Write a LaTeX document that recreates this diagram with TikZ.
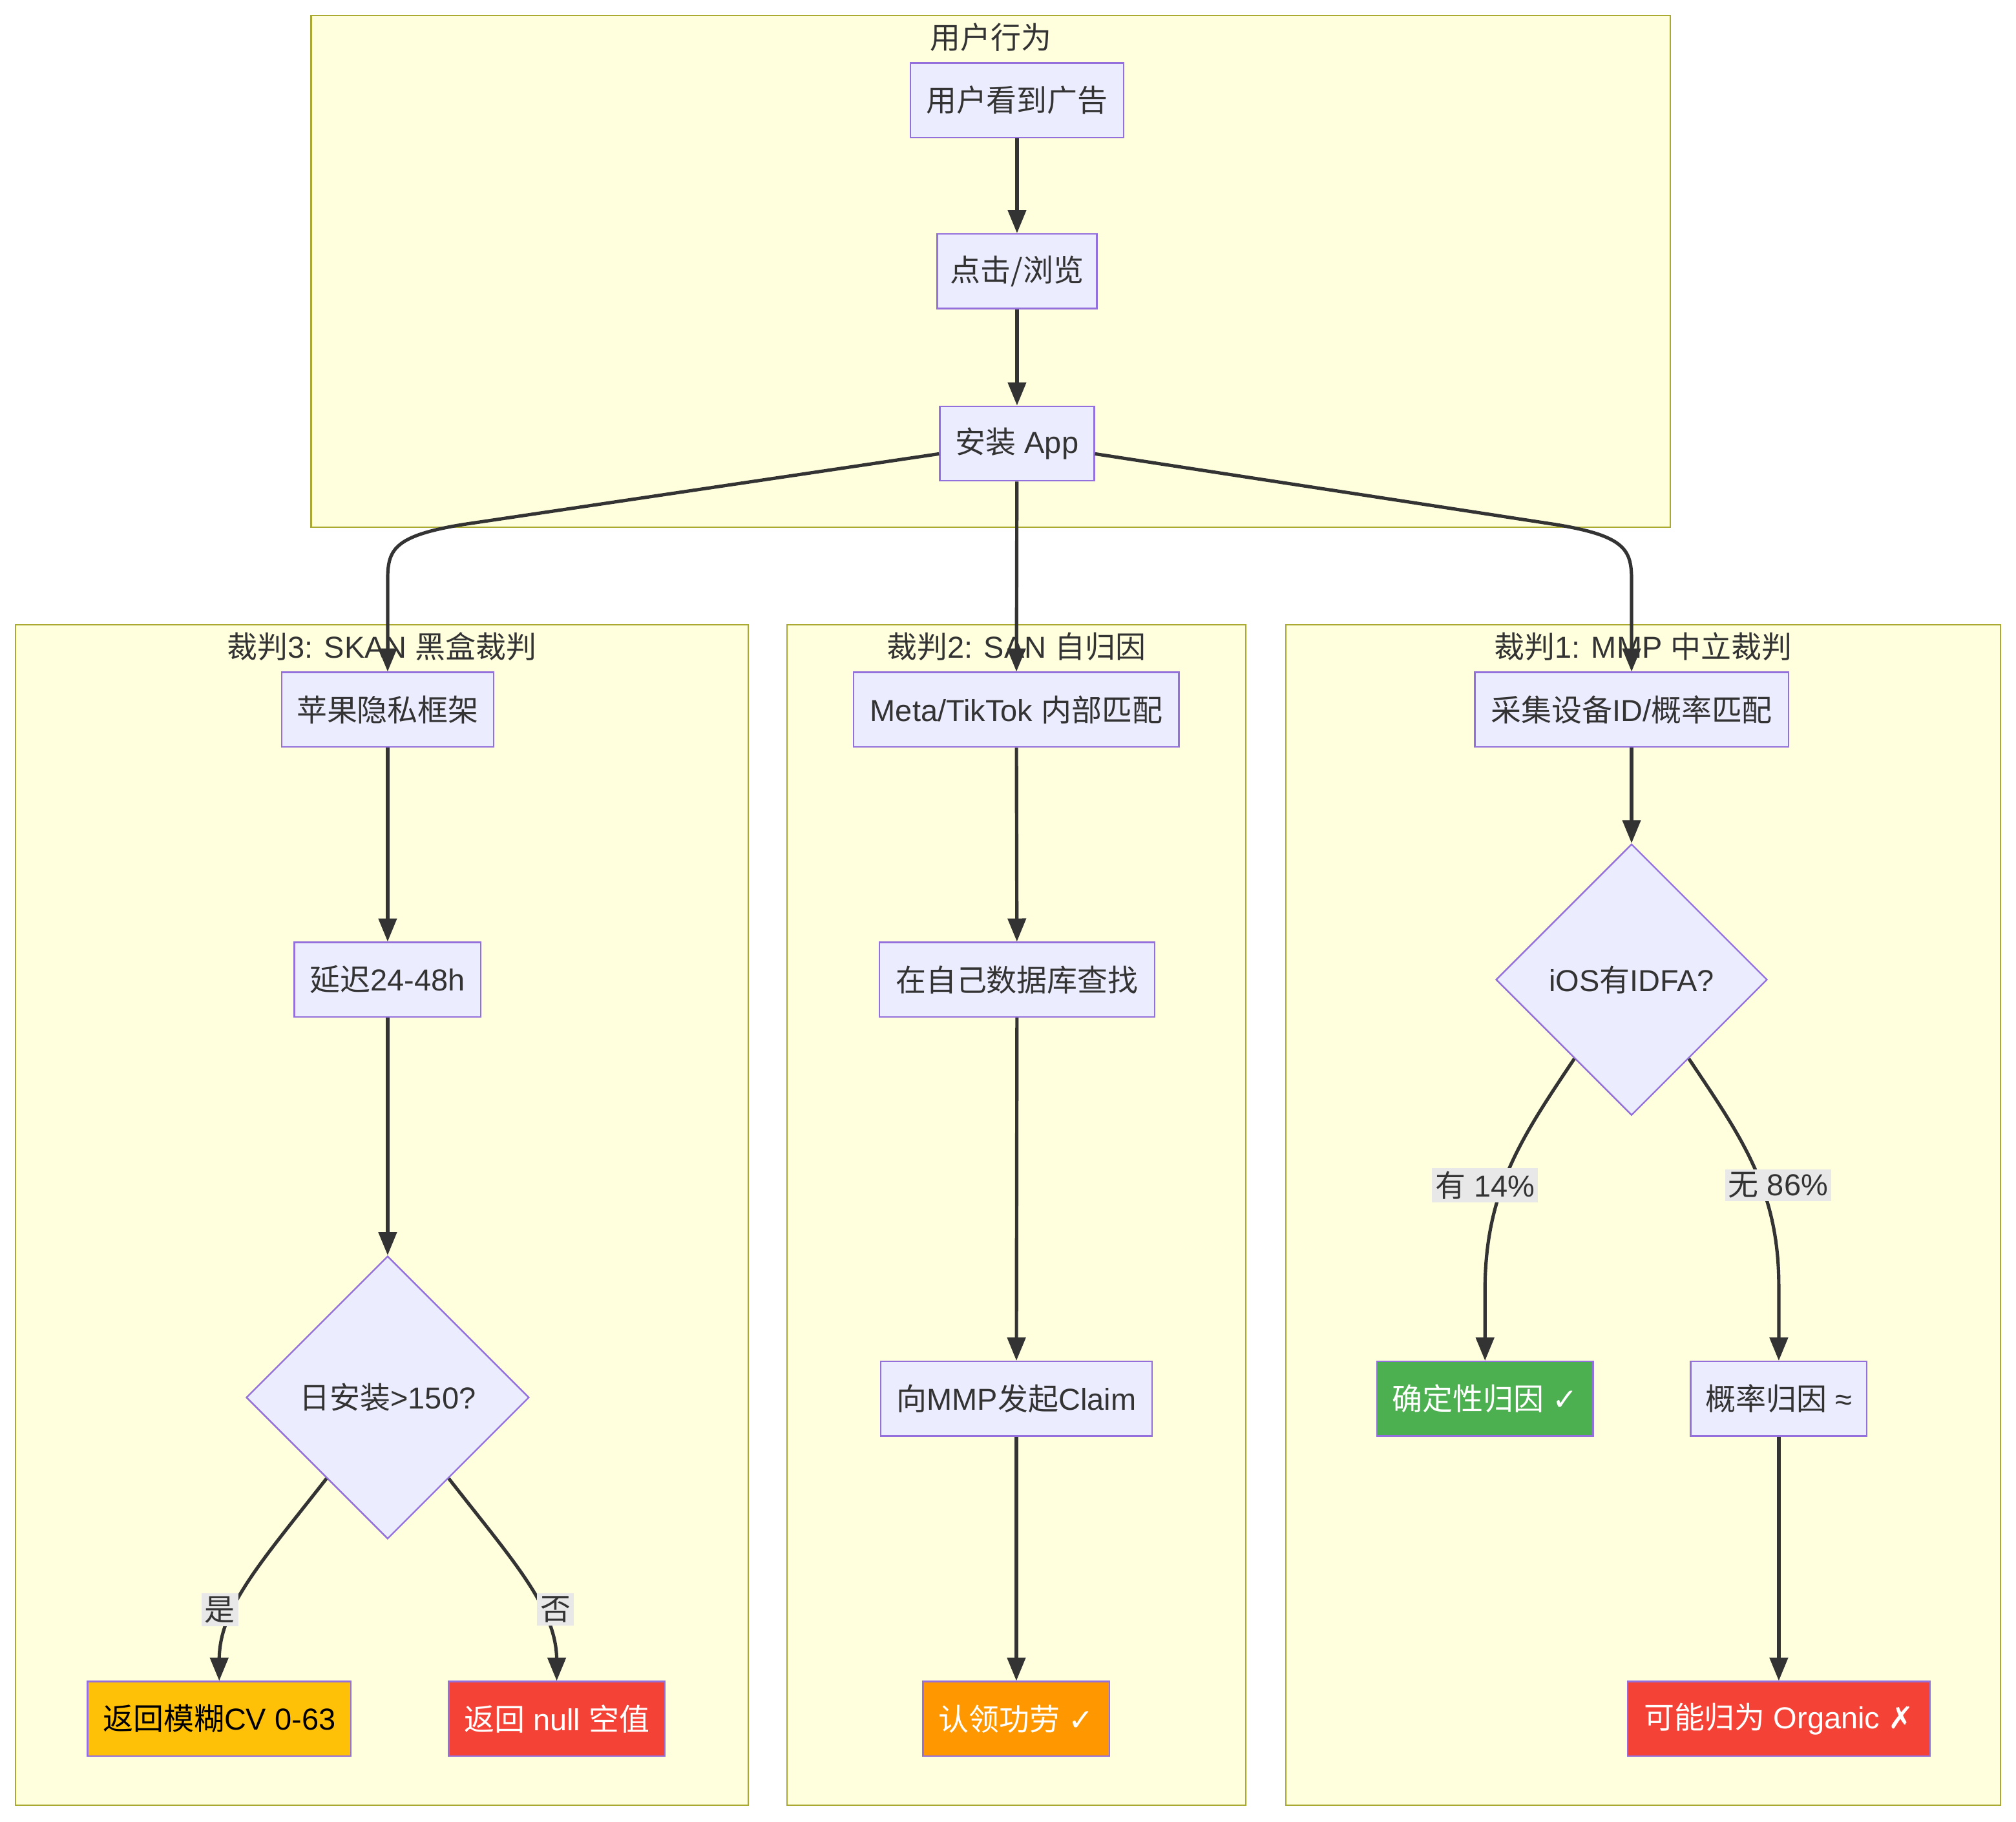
\documentclass[tikz,border=0pt]{standalone}
\usepackage{fontspec}
\setmainfont{Liberation Sans}
\newfontfamily\cjk{Noto Sans CJK SC}
\newfontfamily\symfont{DejaVu Sans}
\newcommand\zh[1]{{\cjk #1}}
\newcommand\sy[1]{{\symfont #1}}
\newcommand\fs{\fontsize{11.8pt}{14pt}\selectfont}
\usetikzlibrary{shapes.geometric,arrows.meta,calc}
\definecolor{nodefill}{HTML}{ECECFF}
\definecolor{nodeline}{HTML}{9370DB}
\definecolor{clfill}{HTML}{FFFFDE}
\definecolor{clline}{HTML}{AAAA33}
\definecolor{ink}{HTML}{333333}
\definecolor{lblbg}{HTML}{E8E8E8}
\definecolor{amberc}{HTML}{FFC107}
\definecolor{redc}{HTML}{F44336}
\definecolor{orangec}{HTML}{FF9800}
\definecolor{greenc}{HTML}{4CAF50}
\tikzset{
  box/.style={draw=nodeline, fill=nodefill, line width=0.6pt, minimum height=29pt, inner sep=0pt, text=ink},
  dia/.style={diamond, draw=nodeline, fill=nodefill, line width=0.6pt, inner sep=0pt, text=ink, aspect=1},
  cluster/.style={draw=clline, fill=clfill, line width=0.6pt},
  ctitle/.style={text=ink, inner sep=0pt},
  arr/.style={draw=ink, line width=1.3pt, -{Triangle[length=9pt,width=7pt]}},
  elabel/.style={fill=lblbg, text=ink, inner sep=1.2pt},
}
\begin{document}
\begin{tikzpicture}[x=0.5pt, y=-0.5pt, font=\fs]
\useasboundingbox (0,0) rectangle (1568,1417);
\fill[white] (0,0) rectangle (1568,1417);

% clusters
\draw[cluster] (242,12) rectangle (1299,410);
\draw[cluster] (12,486) rectangle (582,1404);
\draw[cluster] (612,486) rectangle (969,1404);
\draw[cluster] (1000,486) rectangle (1556,1404);
\node[ctitle] (t0) at (770.5,29) {\zh{用户行为}};
\node[ctitle] (t3) at (297,503) {\zh{裁判}3: SKAN \zh{黑盒裁判}};
\node[ctitle] (t2) at (790.5,503) {\zh{裁判}2: SAN \zh{自归因}};
\node[ctitle] (t1) at (1278,503) {\zh{裁判}1: MMP \zh{中立裁判}};

% top
\node[box, minimum width=83pt] (A) at (791,78) {\zh{用户看到广告}};
\node[box, minimum width=62pt] (B) at (791,211) {\zh{点击/浏览}};
\node[box, minimum width=60pt] (C) at (791,345) {\zh{安装} App};

% SKAN
\node[box, minimum width=82.5pt] (S1) at (301.5,552) {\zh{苹果隐私框架}};
\node[box, minimum width=72.5pt] (S2) at (301.5,762) {\zh{延迟}24-48h};
\node[dia, minimum width=110pt, minimum height=110pt] (S3) at (301.5,1087) {\zh{日安装}>150?};
\node[box, minimum width=102.5pt, fill=amberc, text=black] (S4) at (170.5,1337) {\zh{返回模糊}CV 0-63};
\node[box, minimum width=84pt, fill=redc, text=white] (S5) at (433,1337) {\zh{返回} null \zh{空值}};

% SAN
\node[box, minimum width=126.5pt] (N1) at (790.5,552) {Meta/TikTok \zh{内部匹配}};
\node[box, minimum width=107pt] (N2) at (791,762) {\zh{在自己数据库查找}};
\node[box, minimum width=105.5pt] (N3) at (790.5,1088) {\zh{向}MMP\zh{发起}Claim};
\node[box, minimum width=72.5pt, fill=orangec, text=white] (N4) at (790.5,1337) {\zh{认领功劳} \sy{✓}};

% MMP
\node[box, minimum width=122pt] (M1) at (1269,552) {\zh{采集设备}ID/\zh{概率匹配}};
\node[dia, minimum width=105.5pt, minimum height=105.5pt] (M2) at (1269,762) {iOS\zh{有}IDFA?};
\node[box, minimum width=84pt, fill=greenc, text=white] (M3) at (1155,1088) {\zh{确定性归因} \sy{✓}};
\node[box, minimum width=68.5pt] (M4) at (1383.5,1088) {\zh{概率归因} ≈};
\node[box, minimum width=117.5pt, fill=redc, text=white] (M5) at (1383.5,1337) {\zh{可能归为} Organic \sy{✗}};

% edges top
\draw[arr] (A) -- (B);
\draw[arr] (B) -- (C);
\draw[arr] ($(C.west)+(0,8)$) -- (360,408) .. controls (305,417) and (301.5,428) .. (301.5,452) -- (S1.north);
\draw[arr] (C) -- (N1);
\draw[arr] ($(C.east)+(0,8)$) -- (1210,408) .. controls (1265,417) and (1269,428) .. (1269,452) -- (M1.north);

% SKAN edges
\draw[arr] (S1) -- (S2);
\draw[arr] (S2) -- (S3);
\draw[arr] ($(S3.west)!0.57!(S3.south)$) .. controls (204,1214) and (171,1250) .. (170.5,1290) -- (S4.north);
\draw[arr] ($(S3.east)!0.57!(S3.south)$) .. controls (399,1214) and (432,1250) .. (433,1290) -- (S5.north);
\node[elabel] (l1) at (171,1252) {\zh{是}};
\node[elabel] (l2) at (432,1252) {\zh{否}};

% SAN edges
\draw[arr] (N1) -- (N2);
\draw[arr] (N2) -- (N3);
\draw[arr] (N3) -- (N4);

% MMP edges
\draw[arr] (M1) -- (M2);
\draw[arr] ($(M2.west)!0.58!(M2.south)$) .. controls (1184,884) and (1156,925) .. (1155,1000) -- (M3.north);
\draw[arr] ($(M2.east)!0.58!(M2.south)$) .. controls (1354,884) and (1383.5,925) .. (1383.5,1000) -- (M4.north);
\draw[arr] (M4) -- (M5);
\node[elabel] (l3) at (1155,922) {\zh{有} 14\%};
\node[elabel] (l4) at (1383,922) {\zh{无} 86\%};
\end{tikzpicture}
\end{document}
